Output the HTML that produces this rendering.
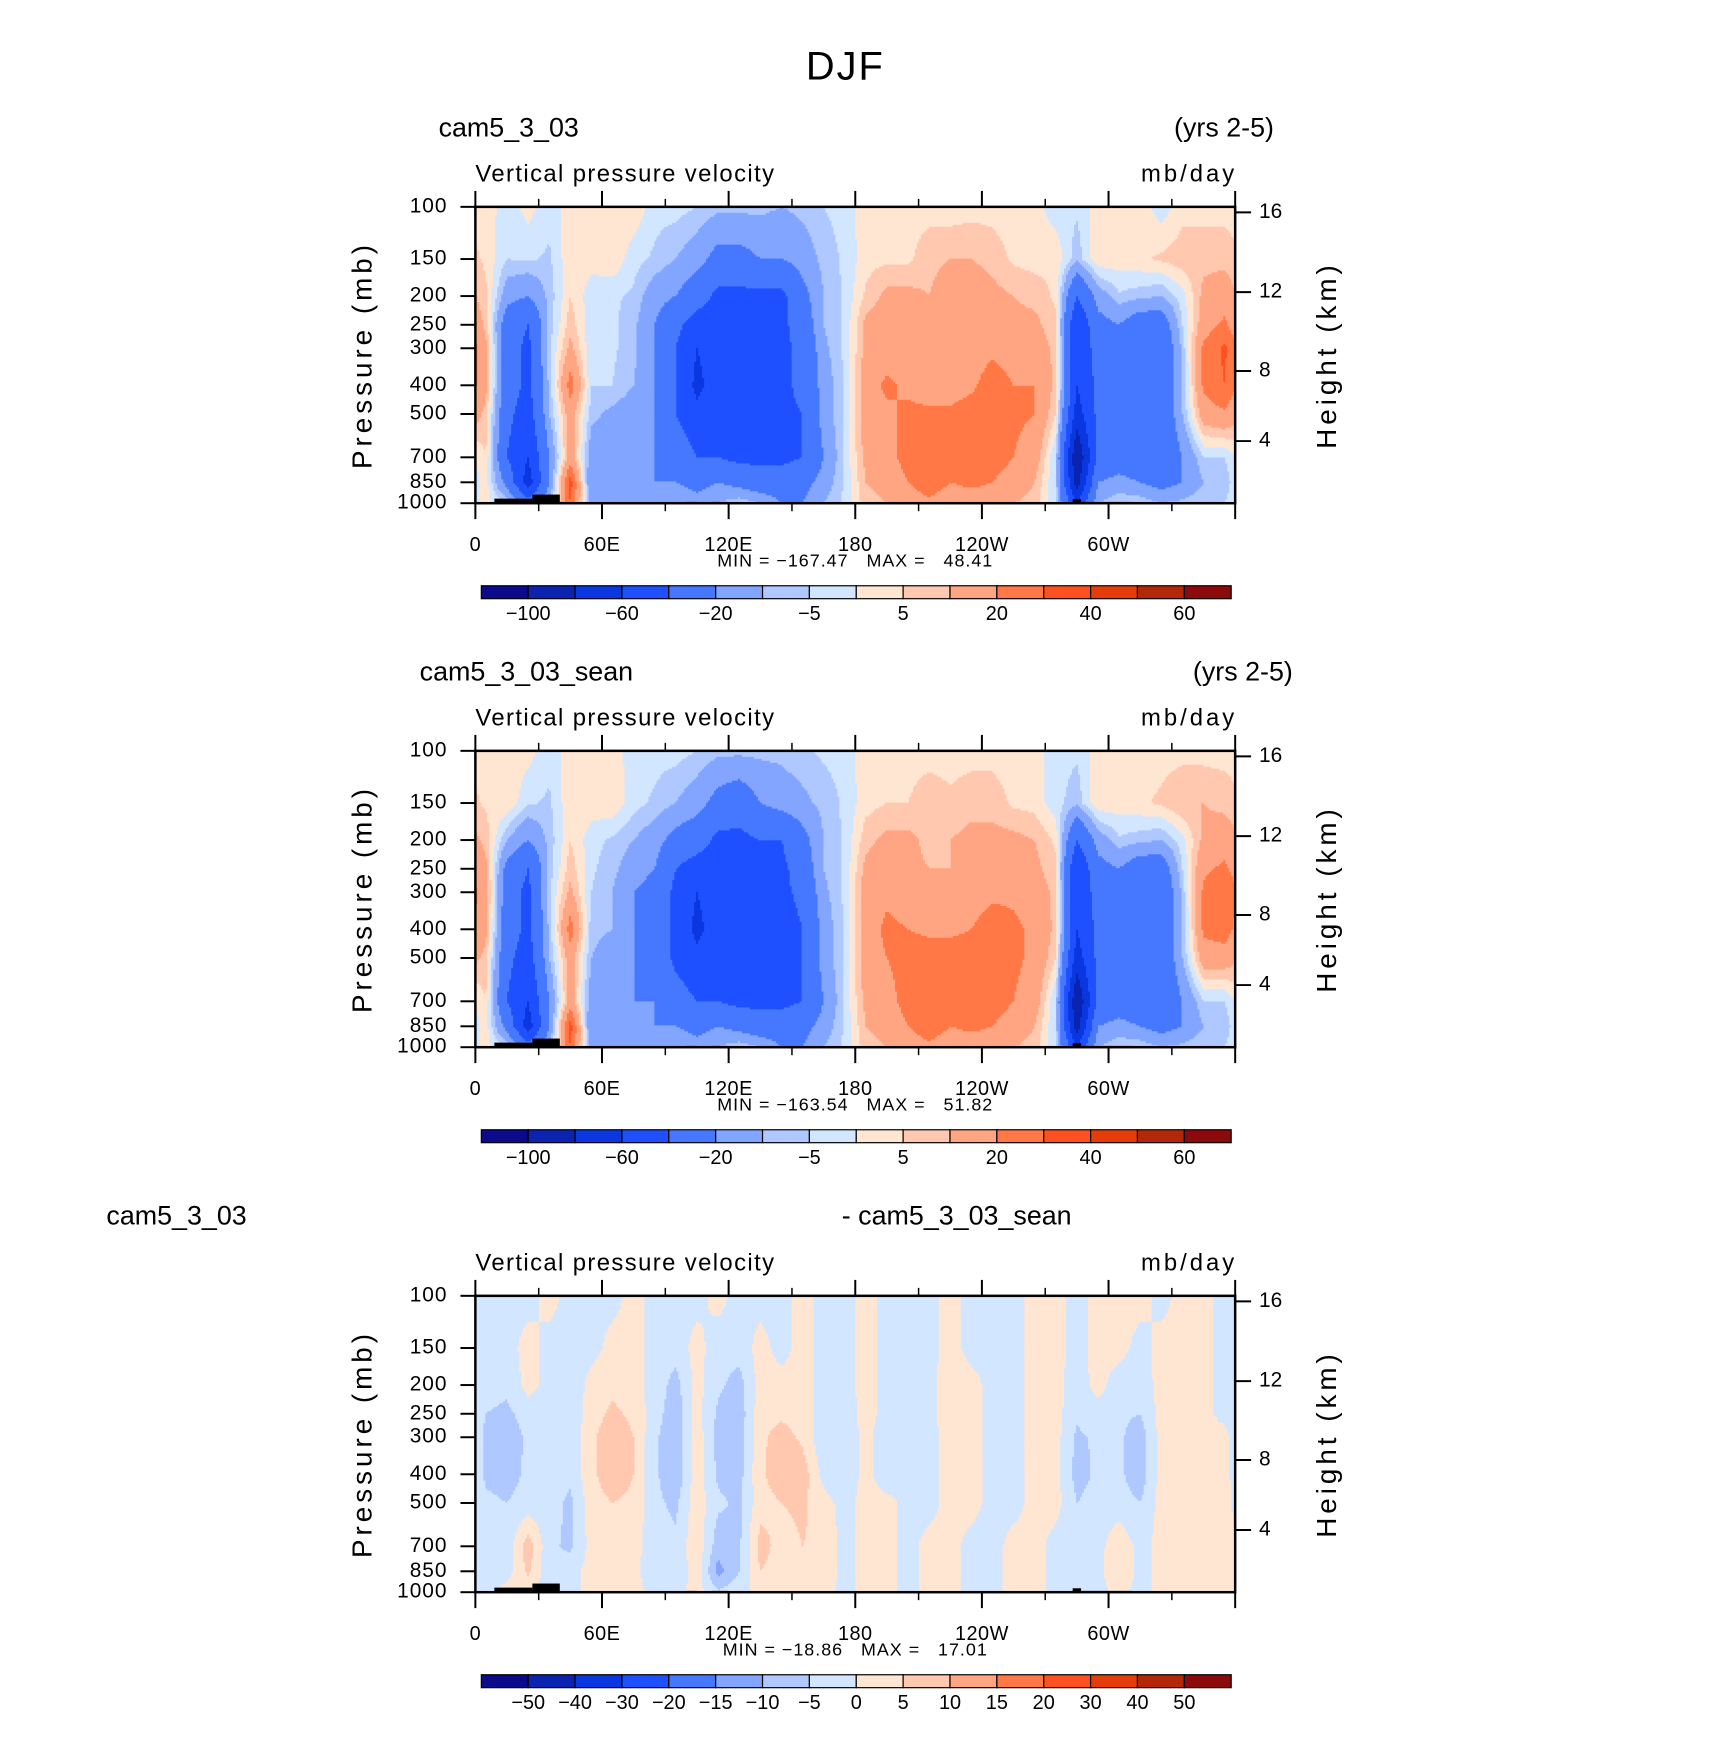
<!DOCTYPE html>
<html><head><meta charset="utf-8"><style>
html,body{margin:0;padding:0;background:#fff;}
svg{display:block;font-family:"Liberation Sans",sans-serif;}
</style></head><body>
<svg id="root" width="1710" height="1741" viewBox="0 0 1710 1741" xmlns="http://www.w3.org/2000/svg">
<rect x="0" y="0" width="1710" height="1741" fill="#fff"/>
<g id="fig" transform="scale(0.9945)">
<text x="850" y="80" font-size="40" text-anchor="middle" fill="#000" letter-spacing="2">DJF</text>
</g>
</svg>
<script>
const levels=[100,150,200,250,300,400,500,700,850,1000];
const lons=[5,15,25,35,45,55,65,75,85,95,105,115,125,135,145,155,165,175,185,195,205,215,225,235,245,255,265,275,285,295,305,315,325,335,345,355];
const field1=[
[3,-3,2,-3,3,2,3,4,-3,-3,-5,-8,-8,-8,-10,-8,-5,-3,3,3,3,3,2,3,3,2,2,-3,-4,2,3,3,-3,3,3,3],
[4,-5,-4,-6,4,2,4,-3,-6,-10,-15,-25,-25,-20,-20,-15,-8,-4,3,4,4,8,10,10,8,4,3,4,-8,4,3,4,6,8,8,8],
[6,-15,-20,-8,5,-3,-4,-6,-15,-20,-30,-45,-45,-45,-45,-25,-10,-4,6,12,12,10,15,15,12,10,8,4,-40,-15,-6,-8,-10,-2,12,15],
[8,-30,-40,-8,8,-4,-4,-8,-20,-35,-50,-50,-50,-50,-45,-30,-10,-4,12,15,12,10,12,15,15,12,12,6,-60,-25,-20,-30,-30,-5,15,22],
[12,-30,-45,-6,12,-4,-4,-8,-20,-40,-60,-50,-60,-50,-45,-35,-12,-4,12,15,15,12,12,15,18,15,15,8,-60,-30,-25,-40,-35,-8,22,32],
[12,-30,-45,-8,25,-5,-5,-10,-20,-40,-65,-50,-60,-50,-45,-35,-15,-4,15,22,18,15,15,18,25,20,20,8,-60,-35,-30,-40,-35,-10,22,30],
[8,-35,-50,-10,15,-8,-12,-15,-20,-40,-55,-45,-55,-45,-45,-40,-15,-4,15,18,22,22,22,25,25,22,20,5,-70,-35,-30,-40,-35,-10,15,18],
[5,-40,-60,-20,15,-15,-15,-15,-20,-25,-40,-40,-45,-45,-45,-40,-20,-4,12,15,25,25,25,25,25,20,15,-5,-100,-35,-30,-35,-35,-20,-5,-5],
[3,-25,-70,-20,35,-20,-20,-15,-20,-20,-25,-20,-25,-30,-30,-25,-15,-4,10,12,20,25,20,22,20,15,10,-5,-90,-20,-15,-20,-25,-20,-10,-8],
[2,-5,-30,-10,30,-15,-15,-10,-10,-10,-15,-10,-5,-10,-20,-20,-10,-4,8,10,15,18,15,15,15,10,8,-5,-60,-10,-5,-5,-10,-8,-5,-5]];
const field2=[
[3,3,2,-3,3,3,3,-3,-3,-3,-5,-8,-8,-8,-8,-6,-4,-3,3,3,3,3,3,3,3,2,2,-3,-4,2,3,3,3,3,3,3],
[4,4,-4,-6,4,3,4,-3,-6,-10,-15,-25,-30,-20,-15,-12,-8,-4,3,5,5,8,6,8,8,4,3,-3,-8,4,3,4,6,10,10,8],
[8,-10,-20,-8,5,-3,-6,-10,-15,-25,-30,-45,-45,-40,-40,-25,-10,-4,8,12,12,8,10,12,12,12,10,4,-40,-15,-6,-8,-10,-2,12,15],
[12,-25,-40,-8,8,-4,-8,-15,-20,-40,-50,-50,-55,-45,-45,-30,-10,-4,12,15,12,10,10,15,15,15,12,6,-60,-25,-20,-30,-30,-5,18,22],
[15,-30,-45,-6,12,-5,-10,-20,-25,-45,-60,-50,-60,-45,-45,-35,-12,-4,15,18,15,12,12,15,18,18,15,8,-60,-30,-25,-40,-35,-8,22,28],
[12,-30,-45,-8,25,-8,-10,-20,-25,-45,-65,-50,-60,-45,-50,-40,-15,-4,15,22,20,18,18,20,25,22,18,8,-60,-35,-30,-40,-35,-10,22,25],
[8,-35,-50,-10,15,-10,-15,-20,-25,-45,-55,-45,-55,-45,-50,-40,-15,-4,15,20,25,25,25,25,25,22,18,5,-70,-35,-30,-40,-35,-10,15,15],
[5,-40,-60,-20,15,-15,-15,-20,-20,-30,-40,-40,-45,-45,-45,-40,-20,-4,12,15,25,25,25,25,25,20,15,-5,-100,-35,-30,-35,-35,-20,-5,-5],
[3,-25,-70,-20,35,-20,-20,-15,-20,-20,-25,-20,-25,-30,-30,-25,-15,-4,10,12,20,25,20,22,20,15,10,-5,-90,-20,-15,-20,-25,-20,-10,-8],
[2,-5,-30,-10,30,-15,-15,-10,-10,-10,-15,-10,-5,-10,-20,-20,-10,-4,8,10,15,18,15,15,15,10,8,-5,-60,-10,-5,-5,-10,-8,-5,-5]];
const field3=[
[-2,-2,-2,2,-2,-2,-2,2,-2,-2,-2,2,-2,-2,-2,2,-2,-2,2,-2,-2,-2,2,-2,-2,-2,2,2,-2,2,2,2,-2,2,2,-2],
[-2,-2,2,-2,-2,-2,2,2,-2,-3,2,-3,-3,2,-2,2,-2,-2,2,-2,-2,-2,2,-2,-2,-2,2,2,-2,2,2,-2,2,2,2,-2],
[-3,-4,2,-2,-4,2,4,2,-2,-7,2,-4,-7,2,2,2,-2,-2,2,-2,-2,-2,4,2,-2,-2,2,2,-3,2,-3,-3,2,2,2,-2],
[-5,-6,-3,-2,-4,3,6,4,-3,-8,2,-6,-8,3,4,3,-3,-3,2,-2,-2,-2,4,2,-2,-2,2,2,-4,-2,-4,-5,2,2,2,-2],
[-6,-8,-4,-2,-4,4,8,5,-4,-9,3,-7,-8,4,7,4,-4,-4,2,-4,-2,-2,2,2,-2,-2,2,2,-6,-4,-4,-8,2,2,2,2],
[-6,-7,-4,-3,-4,4,8,5,-4,-9,3,-6,-7,4,8,8,-2,-4,2,-4,-2,-2,2,2,-2,-2,2,2,-7,-4,-4,-8,2,2,2,2],
[-4,-5,-3,-3,-6,3,5,4,-4,-6,3,-4,-6,3,5,6,2,-2,2,2,-2,-2,2,2,-2,-2,2,2,-5,-3,-3,-5,2,2,2,2],
[-2,-3,8,-4,-6,2,3,2,-3,-4,4,-8,-6,7,3,5,4,-2,2,2,-2,2,2,-2,-2,2,2,-2,-4,-2,4,-2,2,2,2,2],
[-2,-2,6,-4,-2,2,2,2,-4,-4,3,-12,-5,5,3,4,4,-2,2,2,-2,2,2,-2,-2,2,2,-2,-3,-2,5,-2,2,2,2,2],
[-2,2,2,-3,-2,2,2,2,-2,-2,2,-4,-2,2,2,2,2,-2,2,2,-2,2,2,-2,-2,2,2,-2,-2,-2,2,-2,2,2,2,2]];
const bounds12=[-100,-80,-60,-40,-20,-10,-5,0,5,10,20,30,40,50,60];
const labels12=["-100","-60","-20","-5","5","20","40","60"];
const labelIdx12=[0,2,4,6,8,10,12,14];
const bounds3=[-50,-40,-30,-20,-15,-10,-5,0,5,10,15,20,30,40,50];
const labels3=["-50","-40","-30","-20","-15","-10","-5","0","5","10","15","20","30","40","50"];
const labelIdx3=[0,1,2,3,4,5,6,7,8,9,10,11,12,13,14];
const colors=["#0a0a8a","#0a23b0","#0a37e0","#1e50ff","#4678ff","#82a5ff","#afc8ff","#d2e6ff","#ffe6d2","#ffc8af","#ffa582","#ff7846","#ff5020","#e63c0a","#b4280a","#8c0a0a"];
const pTicks=[100,150,200,250,300,400,500,700,850,1000];
const hTicks=[4,8,12,16];
const hTickP=[617,358,194,104.4];
const xMajor=[0,60,120,180,240,300,360];
const xMajorLabels=["0","60E","120E","180","120W","60W",""];
const xMinor=[30,90,150,210,270,330];
const topo=[[9,27,965],[27,40,935],[100,105,990],[112,120,990],[283,287,970],[287,311,990]];
const minmax=[["-167.47","48.41"],["-163.54","51.82"],["-18.86","17.01"]];

const NS="http://www.w3.org/2000/svg";
const svg=document.getElementById('fig');
const L=478,R=1242,W=R-L,H=298;
function mk(tag,attrs,parent){const e=document.createElementNS(NS,tag);for(const k in attrs)e.setAttribute(k,attrs[k]);(parent||svg).appendChild(e);return e;}
function xS(lon){return L+lon/360*W;}
function yS(T,p){return T+(Math.log10(p)-2)*H;}
function sample(f,lon,p){
  let fi=(lon-5)/10;let i0=Math.floor(fi);const t=fi-i0;
  const a=((i0%36)+36)%36,b=(a+1)%36;
  const lp=Math.log10(p);
  let k=0;while(k<levels.length-2&&Math.log10(levels[k+1])<lp)k++;
  const l0=Math.log10(levels[k]),l1=Math.log10(levels[k+1]);
  let s=(lp-l0)/(l1-l0);s=Math.max(0,Math.min(1,s));
  const v0=f[k][a]*(1-t)+f[k][b]*t,v1=f[k+1][a]*(1-t)+f[k+1][b]*t;
  return v0*(1-s)+v1*s;
}
function cidx(v,b){let i=0;while(i<b.length&&v>=b[i])i++;return i;}
function txt(s,x,y,size,anchor,name,extra){const e=mk('text',Object.assign({x:x,y:y,'font-size':size,'text-anchor':anchor||'start',fill:'#000','dominant-baseline':'middle'},extra||{}));e.textContent=s;return e;}

function panel(T,f,bounds,labIdx,labs,mm,idx){
  const g=mk('g',{});
  
  
  const step=2;
  for(let y=T;y<T+H;y+=step){
    const p=Math.pow(10,2+(y+step/2-T)/H);
    let runStart=L,runC=-1;
    for(let x=L;x<=R;x+=step){
      let c=-2;
      if(x<R){const lon=(x+step/2-L)/W*360;c=cidx(sample(f,lon,p),bounds);}
      if(c!==runC){
        if(runC>=0){const r=mk('rect',{x:runStart,y:y,width:Math.min(x,R)-runStart+0.6,height:step+0.6,fill:colors[runC]},g);
          }
        runStart=x;runC=c;
      }
    }
  }
  topo.forEach(t=>{const r=mk('rect',{x:xS(t[0]),y:yS(T,t[2]),width:xS(t[1])-xS(t[0]),height:T+H-yS(T,t[2]),fill:'#000'});
    });
  const fr=mk('rect',{x:L,y:T,width:W,height:H,fill:'none',stroke:'#000','stroke-width':2.5});
  
  xMajor.forEach((lon,i)=>{
    const x=xS(lon);
    mk('line',{x1:x,x2:x,y1:T-16,y2:T,stroke:'#000','stroke-width':2});
    mk('line',{x1:x,x2:x,y1:T+H,y2:T+H+16,stroke:'#000','stroke-width':2});
    if(xMajorLabels[i])txt(xMajorLabels[i],x,T+H+43,20,'middle','x-tick-label',{'letter-spacing':'0.5'});
  });
  xMinor.forEach(lon=>{const x=xS(lon);
    mk('line',{x1:x,x2:x,y1:T-8,y2:T,stroke:'#000','stroke-width':1.5});
    mk('line',{x1:x,x2:x,y1:T+H,y2:T+H+8,stroke:'#000','stroke-width':1.5});});
  pTicks.forEach(p=>{const y=yS(T,p);
    mk('line',{x1:L-15,x2:L,y1:y,y2:y,stroke:'#000','stroke-width':2});
    txt(String(p),L-28,y,21,'end','y-tick-label',{'letter-spacing':'1'});});
  hTicks.forEach((h,i)=>{const y=yS(T,hTickP[i]);
    mk('line',{x1:R,x2:R+16,y1:y,y2:y,stroke:'#000','stroke-width':2});
    txt(String(h),R+24,y,21,'start','height-tick-label');});
  txt('Pressure (mb)',0,0,28,'middle','y-axis-title',{transform:'translate(366,'+(T+H/2)+') rotate(-90)','letter-spacing':'4'});
  txt('Height (km)',0,0,28,'middle','right-axis-title',{transform:'translate(1336,'+(T+H/2)+') rotate(-90)','letter-spacing':'4'});
  txt('Vertical pressure velocity',L,T-32,24,'start','variable-label',{'letter-spacing':'1.4'});
  txt('mb/day',R+2,T-32,24,'end','units-label',{'letter-spacing':'3'});
  txt('MIN = \u2212'+mm[0].replace('-','')+'   MAX =   '+mm[1],860,T+H+59,18,'middle','min-max-label',{style:'white-space:pre','letter-spacing':'1'});
  const cbL=484,cbR=1238,cbT=T+381,cbH=13,bw=(cbR-cbL)/16;
  for(let i=0;i<16;i++){const r=mk('rect',{x:cbL+i*bw,y:cbT,width:bw,height:cbH,fill:colors[i],stroke:'#000','stroke-width':1.2});
    }
  labIdx.forEach((k,i)=>txt(labs[i].replace('-','\u2212'),cbL+(k+1)*bw,cbT+cbH+16,20,'middle','colorbar-label'));
}
const tops=[208,755,1303];
panel(tops[0],field1,bounds12,labelIdx12,labels12,minmax[0],1);
panel(tops[1],field2,bounds12,labelIdx12,labels12,minmax[1],2);
panel(tops[2],field3,bounds3,labelIdx3,labels3,minmax[2],3);
txt('cam5_3_03',441,130,27,'start','panel1-title');
txt('(yrs 2-5)',1281,130,27,'end','panel1-years');
txt('cam5_3_03_sean',422,677,27,'start','panel2-title');
txt('(yrs 2-5)',1300,677,27,'end','panel2-years');
txt('cam5_3_03',107,1224,27,'start','panel3-title-left');
txt('- cam5_3_03_sean',962,1224,27,'middle','panel3-title-right');
</script>
</body></html>
